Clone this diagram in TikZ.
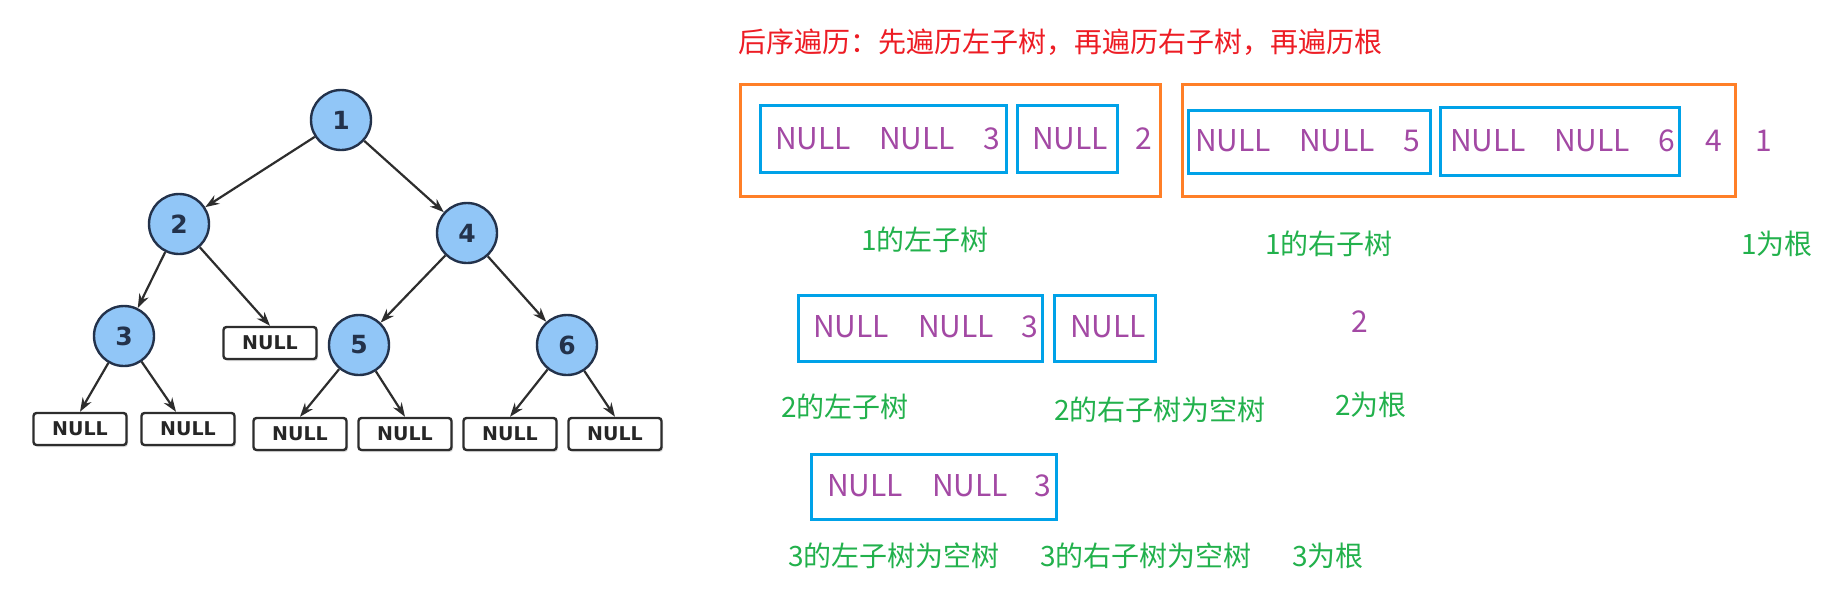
\documentclass[tikz,border=0pt]{standalone}
\usepackage{fontspec}
\setmainfont{Noto Sans CJK SC}
\newfontfamily\treefont{DejaVu Sans}
\usetikzlibrary{shapes.geometric,arrows.meta,shadows}
\definecolor{orangeb}{RGB}{255,127,39}
\definecolor{blueb}{RGB}{0,162,232}
\definecolor{purp}{RGB}{163,73,164}
\definecolor{grn}{RGB}{34,177,76}
\definecolor{redt}{RGB}{237,28,36}
\definecolor{nodefill}{RGB}{145,198,247}
\definecolor{nodeedge}{RGB}{35,50,75}
\definecolor{edgec}{RGB}{45,45,45}
\begin{document}
\begin{tikzpicture}[x=1pt,y=-1pt,
 tnode/.style={ellipse, draw=nodeedge, line width=2.4pt, fill=nodefill, minimum width=60pt, minimum height=60pt, inner sep=0pt, font=\treefont\bfseries\fontsize{25}{25}\selectfont, text=nodeedge},
 nullbox/.style={rectangle, rounded corners=3pt, draw=edgec, line width=2.4pt, fill=white, minimum width=93pt, minimum height=32pt, inner sep=0pt, font=\treefont\bfseries\fontsize{19}{19}\selectfont, text=black!85, drop shadow={shadow xshift=1.5pt, shadow yshift=-2pt, fill=gray!55}},
 tedge/.style={draw=edgec, line width=2.2pt, -{Stealth[length=14pt,width=10pt]}},
 obox/.style={draw=orangeb, line width=3pt},
 bbox/.style={draw=blueb, line width=3pt},
 ptxt/.style={text=purp, font=\fontsize{30}{30}\selectfont, inner sep=0pt, anchor=west},
 gtxt/.style={text=grn, font=\fontsize{28}{28}\selectfont, inner sep=0pt},
]
\fill[white] (0,0) rectangle (1830,595);
\useasboundingbox (0,0) rectangle (1830,595);

% ---------- tree ----------
\node[tnode] (n1) at (341,120) {1};
\node[tnode] (n2) at (179,224) {2};
\node[tnode] (n4) at (467,233) {4};
\node[tnode] (n3) at (124,336) {3};
\node[tnode] (n5) at (359,345) {5};
\node[tnode] (n6) at (567,345) {6};
\node[nullbox] (m)  at (270,343) {NULL};
\node[nullbox] (b1) at (80,429) {NULL};
\node[nullbox] (b2) at (188,429) {NULL};
\node[nullbox] (b3) at (300,434) {NULL};
\node[nullbox] (b4) at (405,434) {NULL};
\node[nullbox] (b5) at (510,434) {NULL};
\node[nullbox] (b6) at (615,434) {NULL};
\draw[tedge] (n1) -- (n2);
\draw[tedge] (n1) -- (n4);
\draw[tedge] (n2) -- (n3);
\draw[tedge] (n2) -- (m.north);
\draw[tedge] (n4) -- (n5);
\draw[tedge] (n4) -- (n6);
\draw[tedge] (n3) -- (b1.north);
\draw[tedge] (n3) -- ([xshift=-12pt]b2.north);
\draw[tedge] (n5) -- (b3.north);
\draw[tedge] (n5) -- (b4.north);
\draw[tedge] (n6) -- (b5.north);
\draw[tedge] (n6) -- (b6.north);

% ---------- title ----------
\node[text=redt, font=\fontsize{28}{28}\selectfont, inner sep=0pt, anchor=west] (title) at (738,42) {后序遍历：先遍历左子树，再遍历右子树，再遍历根};

% ---------- row 1 ----------
\draw[obox] (740,84) rectangle (1160,196);
\draw[obox] (1182,84) rectangle (1735,196);
\draw[bbox] (760,105) rectangle (1006,172);
\draw[bbox] (1017,105) rectangle (1117,172);
\draw[bbox] (1188,110) rectangle (1430,173);
\draw[bbox] (1440,107) rectangle (1679,175);
\node[ptxt] (a1) at (775,139) {NULL};
\node[ptxt] (a2) at (879,139) {NULL};
\node[ptxt] (a3) at (983,139) {3};
\node[ptxt] (bn) at (1032,139) {NULL};
\node[ptxt] (r2) at (1135,139) {2};
\node[ptxt] (c1) at (1195,141) {NULL};
\node[ptxt] (c2) at (1299,141) {NULL};
\node[ptxt] (c3) at (1403,141) {5};
\node[ptxt] (d1) at (1450,141) {NULL};
\node[ptxt] (d2) at (1554,141) {NULL};
\node[ptxt] (d3) at (1658,141) {6};
\node[ptxt] (r4) at (1705,141) {4};
\node[ptxt] (r1) at (1755,141) {1};
\node[gtxt] (l1) at (925,240) {1的左子树};
\node[gtxt] (l2) at (1329,244) {1的右子树};
\node[gtxt] (l3) at (1777,244) {1为根};

% ---------- row 2 ----------
\draw[bbox] (798,295) rectangle (1042,361);
\draw[bbox] (1054,295) rectangle (1155,361);
\node[ptxt] (e1) at (813,327) {NULL};
\node[ptxt] (e2) at (918,327) {NULL};
\node[ptxt] (e3) at (1021,327) {3};
\node[ptxt] (f1) at (1070,327) {NULL};
\node[ptxt] (s2) at (1351,322) {2};
\node[gtxt] (g1) at (845,407) {2的左子树};
\node[gtxt] (g2) at (1160,410) {2的右子树为空树};
\node[gtxt] (g3) at (1371,405) {2为根};

% ---------- row 3 ----------
\draw[bbox] (811,454) rectangle (1056,519);
\node[ptxt] (h1) at (827,486) {NULL};
\node[ptxt] (h2) at (932,486) {NULL};
\node[ptxt] (h3) at (1034,486) {3};
\node[gtxt] (k1) at (894,556) {3的左子树为空树};
\node[gtxt] (k2) at (1146,556) {3的右子树为空树};
\node[gtxt] (k3) at (1328,556) {3为根};
\end{tikzpicture}
\end{document}
